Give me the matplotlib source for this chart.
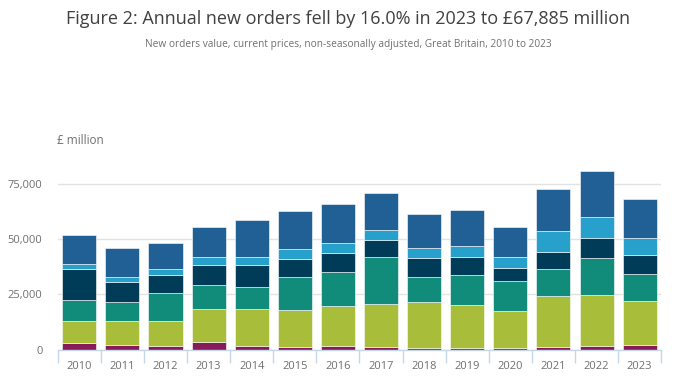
# Annual new orders, stacked by sector, 2010 to 2023.

import numpy as np
import matplotlib.pyplot as plt

plt.rcParams['font.family'] = ['Open Sans', 'DejaVu Sans']

years = ['2010', '2011', '2012', '2013', '2014', '2015', '2016',
         '2017', '2018', '2019', '2020', '2021', '2022', '2023']

# Segment values (£ million), bottom to top.
seg1 = [3300, 2250, 1800, 3750, 1800, 1350, 1800, 1350, 900, 900, 900, 1350, 1800, 2250]
seg2 = [9600, 10650, 11100, 14550, 16500, 16500, 18000, 19350, 20550, 19200, 16500, 22800, 22800, 19650]
seg3 = [9750, 8550, 12600, 10800, 9900, 14850, 15150, 21000, 11250, 13500, 13500, 12150, 16650, 12150]
seg4 = [13650, 9000, 8100, 9000, 9900, 8100, 8550, 7650, 8550, 8100, 5850, 7650, 9000, 8850]
seg5 = [2250, 2250, 2700, 3600, 3600, 4800, 4800, 4800, 4800, 5250, 4950, 9750, 9750, 7650]
seg6 = [13350, 13050, 12000, 13800, 16950, 17100, 17550, 16650, 15300, 16200, 13800, 18900, 20700, 17335]

series = [seg1, seg2, seg3, seg4, seg5, seg6]
colours = ['#871a5b', '#a8bd3a', '#118c7b', '#003c57', '#27a0cc', '#206095']

fig = plt.figure(figsize=(6.96, 3.85), dpi=100)
ax = fig.add_axes([0.083, 0.091, 0.867, 0.49])

x = np.arange(len(years))
bottom = np.zeros(len(years))
for vals, c in zip(series, colours):
    ax.bar(x, vals, width=0.79, bottom=bottom, color=c, edgecolor='white', linewidth=0.4, zorder=3)
    bottom += np.array(vals)

ax.set_xlim(-0.5, len(years) - 0.5)
ax.set_ylim(0, 85000)
ax.set_yticks([0, 25000, 50000, 75000])
ax.set_yticklabels(['0', '25,000', '50,000', '75,000'])
ax.grid(axis='y', color='#e2e2e2', linewidth=1, zorder=0)

# x axis: labels at centres, tick marks at category boundaries
ax.set_xticks(x)
ax.set_xticklabels(years)
ax.set_xticks(np.arange(-0.5, len(years)), minor=True)
ax.tick_params(axis='x', which='major', length=0, pad=8, labelsize=8, labelcolor='#707070')
ax.tick_params(axis='x', which='minor', length=9, color='#c6d8e8', width=1)
ax.tick_params(axis='y', length=0, pad=11, labelsize=8, labelcolor='#707070')

for side in ['top', 'right', 'left']:
    ax.spines[side].set_visible(False)
ax.spines['bottom'].set_color('#c6d8e8')
ax.spines['bottom'].set_linewidth(1)
ax.spines['bottom'].set_zorder(4)

fig.text(57 / 696, 1 - 141 / 385, '£ million', fontsize=8.5, color='#707070', va='center', ha='left')
fig.text(0.5, 1 - 19 / 385, 'Figure 2: Annual new orders fell by 16.0% in 2023 to £67,885 million',
         fontsize=13, color='#414042', ha='center', va='center')
fig.text(0.5, 1 - 44 / 385, 'New orders value, current prices, non-seasonally adjusted, Great Britain, 2010 to 2023',
         fontsize=7.3, color='#707070', ha='center', va='center')

fig.savefig('out.png', dpi=100)
